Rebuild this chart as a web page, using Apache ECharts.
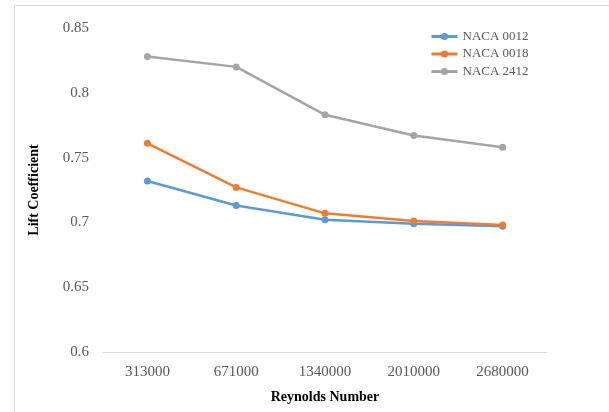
<!DOCTYPE html>
<html>
<head>
<meta charset="utf-8">
<script src="https://cdn.jsdelivr.net/npm/echarts@6/dist/echarts.min.js"></script>
<style>html,body{margin:0;padding:0;background:#fff;}#c{width:609px;height:412px;}</style>
</head>
<body>
<div id="c"></div>
<script>
const categories = ['313000', '671000', '1340000', '2010000', '2680000'];
const naca0012 = [0.732, 0.713, 0.702, 0.699, 0.697];
const naca0018 = [0.761, 0.727, 0.707, 0.701, 0.698];
const naca2412 = [0.828, 0.820, 0.783, 0.767, 0.758];
const seriesNames = ['NACA 0012', 'NACA 0018', 'NACA 2412'];
const colors = ['#5B9BD5', '#ED7D31', '#A5A5A5'];
const yTicks = { min: 0.6, max: 0.85, interval: 0.05 };

const font = '"Liberation Serif", "Times New Roman", serif';
const chart = echarts.init(document.getElementById('c'), null, { renderer: 'canvas' });
const mk = (name, data, color) => ({
  name, type: 'line', data, color,
  symbol: 'circle', symbolSize: 7,
  lineStyle: { width: 2.5, color },
  itemStyle: { color },
  animation: false
});
chart.setOption({
  animation: false,
  backgroundColor: '#fff',
  graphic: [{
    type: 'rect', silent: true,
    shape: { x: 14.5, y: 5.5, width: 700, height: 500 },
    style: { fill: 'none', stroke: '#d9d9d9', lineWidth: 1 }
  }],
  grid: { left: 103, right: 62, top: 28, bottom: 60 },
  legend: {
    orient: 'vertical', left: 430, top: 30, padding: 0,
    itemWidth: 26, itemHeight: 9, itemGap: 4.5,
    data: seriesNames,
    lineStyle: { width: 3 },
    textStyle: { fontFamily: font, fontSize: 13, color: '#595959' }
  },
  xAxis: {
    type: 'category', data: categories, boundaryGap: true,
    name: 'Reynolds Number', nameLocation: 'middle', nameGap: 38,
    nameTextStyle: { fontFamily: font, fontSize: 14, fontWeight: 'bold', color: '#000' },
    axisLine: { lineStyle: { color: '#d9d9d9', width: 1 } },
    axisTick: { show: false },
    axisLabel: { fontFamily: font, fontSize: 15, color: '#595959', margin: 13 }
  },
  yAxis: {
    type: 'value', min: yTicks.min, max: yTicks.max, interval: yTicks.interval,
    name: 'Lift Coefficient', nameLocation: 'middle', nameGap: 62, nameRotate: 90,
    nameTextStyle: { fontFamily: font, fontSize: 14, fontWeight: 'bold', color: '#000' },
    axisLine: { show: false }, axisTick: { show: false },
    splitLine: { show: false },
    axisLabel: {
      fontFamily: font, fontSize: 15, color: '#595959', margin: 14,
      formatter: v => String(parseFloat(v.toFixed(2)))
    }
  },
  series: [
    mk(seriesNames[0], naca0012, colors[0]),
    mk(seriesNames[1], naca0018, colors[1]),
    mk(seriesNames[2], naca2412, colors[2])
  ]
});
</script>
</body>
</html>
